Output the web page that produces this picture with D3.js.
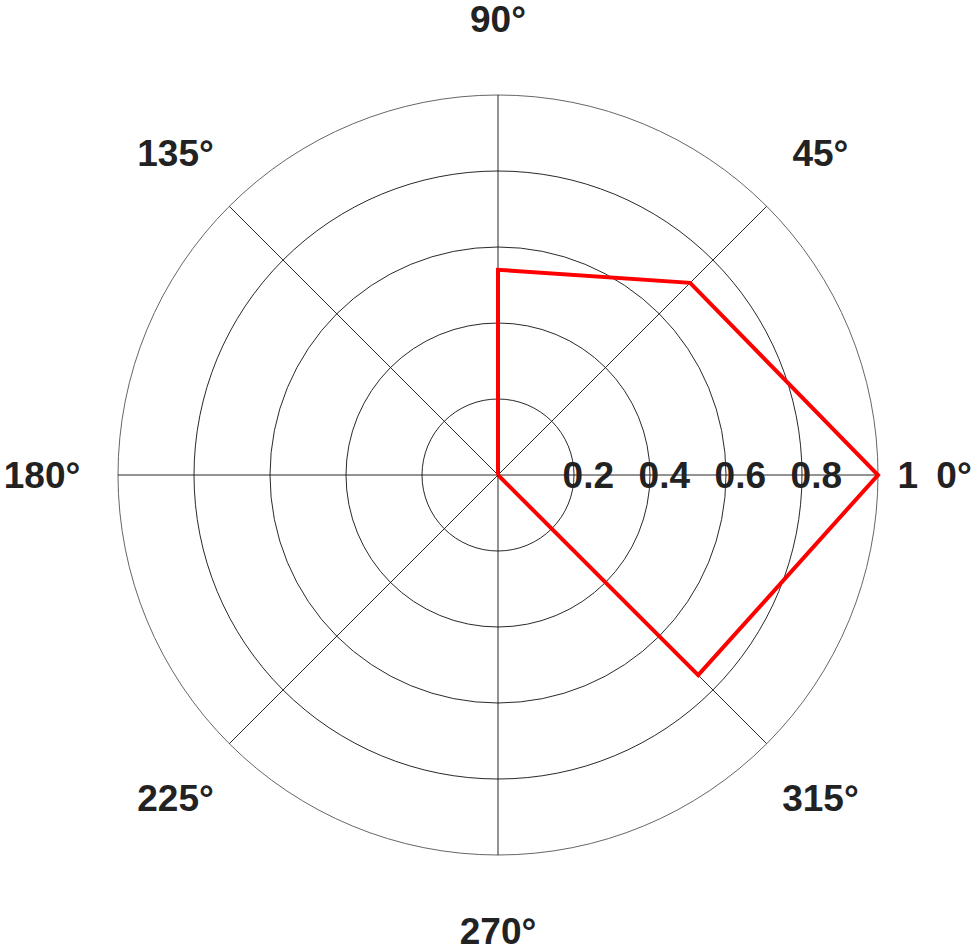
<!DOCTYPE html>
<html>
<head>
<meta charset="utf-8">
<script src="https://cdn.jsdelivr.net/npm/d3@7"></script>
<style>
  html, body { margin: 0; padding: 0; background: #fff; }
  svg { display: block; }
  text { font-family: "Liberation Sans", Arial, Helvetica, sans-serif; font-weight: bold; fill: #222; }
</style>
</head>
<body>
<script>
// Data
const thetaDeg = [0, 90, 45, 0, 315, 0];
const rhoValues = [0, 0.54, 0.715, 1, 0.745, 0];
const radialTicks = [0.2, 0.4, 0.6, 0.8, 1];
const radialTickLabels = ["0.2", "0.4", "0.6", "0.8", "1"];
const angleTicks = [0, 45, 90, 135, 180, 225, 270, 315];
const angleTickLabels = ["0°", "45°", "90°", "135°", "180°", "225°", "270°", "315°"];

const W = 975, H = 951;
const cx = 498, cy = 475, R = 380;

const svg = d3.select("body").append("svg").attr("width", W).attr("height", H);
const g = svg.append("g").attr("transform", `translate(${cx},${cy})`);

const r = d3.scaleLinear().domain([0, 1]).range([0, R]);
const toRad = d => (90 - d) * Math.PI / 180; // d3 radial angle (clockwise from 12 o'clock)

// Circles
g.selectAll("circle.grid").data(radialTicks).join("circle")
  .attr("class", "grid")
  .attr("r", d => r(d))
  .attr("fill", "none")
  .attr("stroke", d => d === 1 ? "#555" : "#111")
  .attr("stroke-width", 0.9);

// Spokes (full lines through center)
g.selectAll("line.spoke").data(angleTicks).join("line")
  .attr("class", "spoke")
  .attr("x1", 0).attr("y1", 0)
  .attr("x2", d => r(1) * Math.cos(d * Math.PI / 180))
  .attr("y2", d => -r(1) * Math.sin(d * Math.PI / 180))
  .attr("stroke", "#111")
  .attr("stroke-width", 0.9);

// Angle labels
g.selectAll("text.alab").data(angleTicks).join("text")
  .attr("class", "alab")
  .attr("x", d => r(1.2) * Math.cos(d * Math.PI / 180))
  .attr("y", d => -r(1.2) * Math.sin(d * Math.PI / 180))
  .attr("text-anchor", "middle")
  .attr("dy", "0.36em")
  .style("font-size", "37px")
  .text((d, i) => angleTickLabels[i]);

// Radial tick labels
g.selectAll("text.rlab").data(radialTicks).join("text")
  .attr("class", "rlab")
  .attr("x", d => r(d) + 40)
  .attr("y", 0)
  .attr("text-anchor", "end")
  .attr("dy", "0.36em")
  .style("font-size", "37px")
  .text((d, i) => radialTickLabels[i]);

// Data line
const line = d3.lineRadial()
  .angle(d => toRad(d[0]))
  .radius(d => r(d[1]));
const pts = thetaDeg.map((t, i) => [t, rhoValues[i]]);
g.append("path")
  .attr("d", line(pts))
  .attr("fill", "none")
  .attr("stroke", "#ff0000")
  .attr("stroke-width", 4)
  .attr("stroke-linejoin", "miter");
</script>
</body>
</html>
